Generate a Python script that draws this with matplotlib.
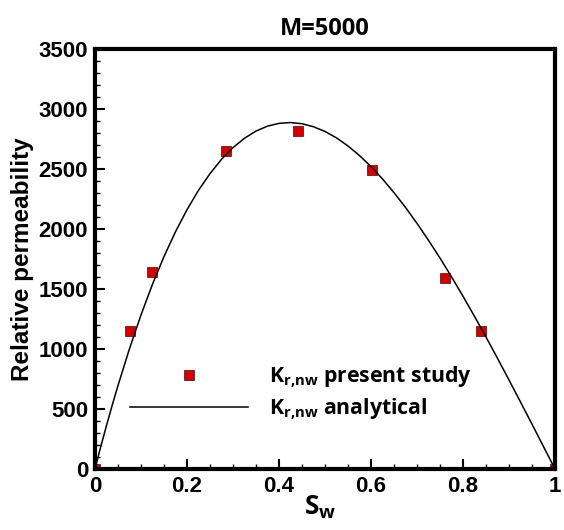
import matplotlib
matplotlib.use('Agg')
import matplotlib.pyplot as plt
import matplotlib.ticker as plticker

plt.rcParams.update({'mathtext.default': 'regular',
                     'font.family': 'Liberation Sans',
                     'font.weight': 'bold'})

# Present study (LBM) points
sw_sim = [0.0, 0.077, 0.125, 0.284, 0.442, 0.603, 0.760, 0.839, 1.0]
kr_sim = [0, 1150, 1639, 2653, 2820, 2494, 1589, 1150, 0]

# Analytical curve
sw_ana = [0.0, 0.0125, 0.025, 0.0375, 0.05, 0.075, 0.1, 0.125, 0.15, 0.175, 0.2,
          0.225, 0.25, 0.275, 0.3, 0.325, 0.35, 0.375, 0.4, 0.425, 0.45, 0.475,
          0.5, 0.525, 0.55, 0.575, 0.6, 0.625, 0.65, 0.675, 0.7, 0.725, 0.75,
          0.775, 0.8, 0.825, 0.85, 0.875, 0.9, 0.925, 0.95, 0.975, 1.0]
kr_ana = [1, 185, 362, 532, 695, 1002, 1283, 1539, 1770, 1977, 2160,
          2322, 2461, 2580, 2678, 2756, 2816, 2857, 2880, 2887, 2877, 2852,
          2813, 2759, 2692, 2612, 2520, 2417, 2303, 2180, 2047, 1906, 1758,
          1602, 1440, 1272, 1100, 923, 742, 559, 374, 187, 0]

fig = plt.figure(figsize=(5.64, 5.30), dpi=100)
ax = fig.add_axes([0.1684, 0.1151, 0.8156, 0.7925])

ax.plot(sw_sim, kr_sim, 's', color='#d40000', mec='#5a0000', mew=0.5, ms=6.5,
        zorder=2, label=r'K$_{r{,}nw}$ present study')
ax.plot(sw_ana, kr_ana, '-', color='black', lw=1.1, zorder=3,
        label=r'K$_{r{,}nw}$ analytical')

ax.set_xlim(0, 1)
ax.set_ylim(0, 3500)
ax.xaxis.set_major_locator(plticker.MultipleLocator(0.2))
ax.xaxis.set_minor_locator(plticker.MultipleLocator(0.05))
ax.yaxis.set_major_locator(plticker.MultipleLocator(500))
ax.yaxis.set_minor_locator(plticker.MultipleLocator(100))
ax.xaxis.set_major_formatter(plticker.FuncFormatter(lambda v, p: '%g' % round(v, 2)))

for s in ax.spines.values():
    s.set_linewidth(3)
ax.tick_params(which='major', direction='in', length=7, width=1.5, pad=5,
               top=False, right=False, labelsize=16)
ax.tick_params(which='minor', direction='in', length=3.5, width=1,
               top=False, right=False)

ax.set_ylabel('Relative permeability', fontsize=17.5, fontweight='bold')
ax.yaxis.set_label_coords(-0.133, 0.5)
ax.set_xlabel(r'S$_{w}$', fontfamily='Open Sans', fontweight='bold', fontsize=19)
ax.xaxis.set_label_coords(0.49, -0.058)
ax.set_title('M=5000', fontfamily='Open Sans', fontweight='bold', fontsize=17, pad=10)

leg = ax.legend(loc='center left', bbox_to_anchor=(0.034, 0.18), frameon=False,
                handlelength=5.55, handletextpad=1.0, labelspacing=0.32,
                prop={'family': 'Open Sans', 'weight': 'bold', 'size': 15.3})

fig.savefig('out.png', dpi=100)
